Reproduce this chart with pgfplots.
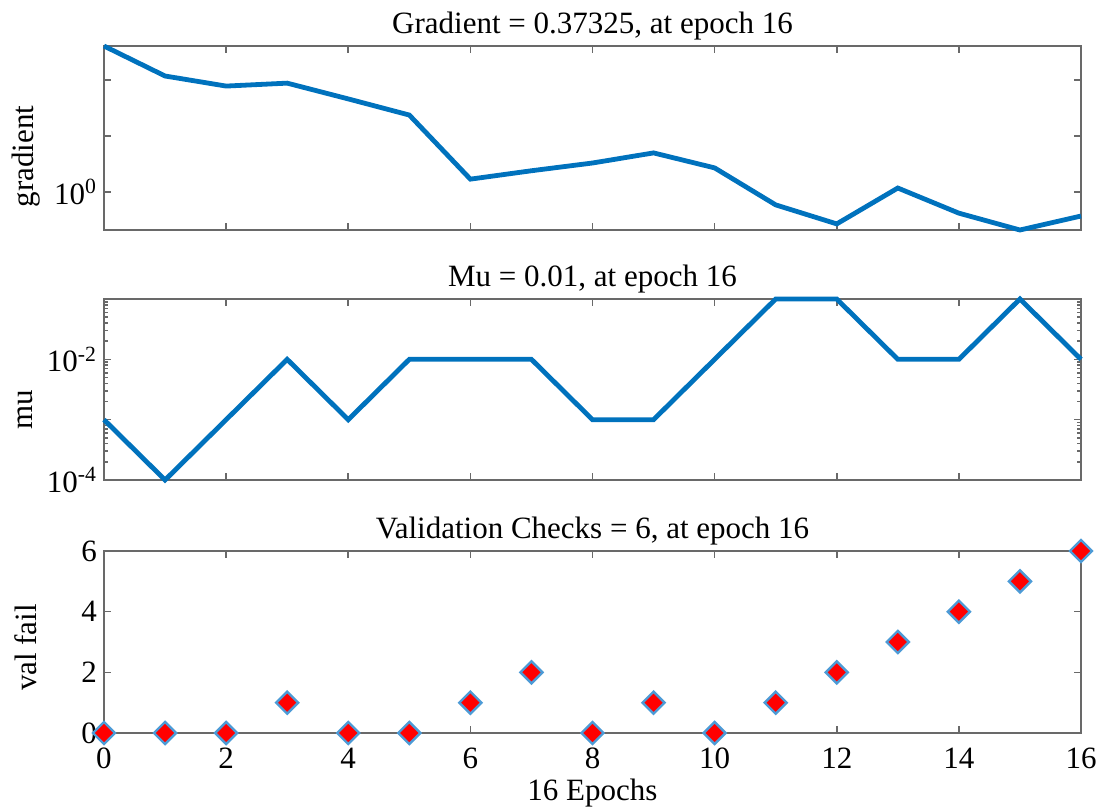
\documentclass[border=0pt]{standalone}
\usepackage{fontspec}
\setmainfont{Liberation Serif}
\usepackage{pgfplots}
\pgfplotsset{compat=1.18}

\definecolor{mlblue}{RGB}{0,114,189}
\definecolor{edgeblue}{RGB}{77,155,214}
\definecolor{axgray}{RGB}{105,105,105}

\pgfplotsset{
  trainstate/.style={
    scale only axis,
    width=488.5pt,
    xmin=0, xmax=16,
    xtick={0,2,...,16},
    axis line style={axgray, line width=0.9pt},
    every tick/.style={axgray, line width=0.8pt},
    major tick length=3.5pt,
    minor tick length=2pt,
    tick align=inside,
    /pgf/number format/assume math mode=true,
    tick label style={font=\rmfamily\fontsize{15.5}{18}\selectfont},
    label style={font=\rmfamily\fontsize{15.5}{18}\selectfont},
    title style={font=\rmfamily\fontsize{15.5}{18}\selectfont, anchor=base, at={(axis description cs:0.5,1)}, yshift=0.5pt},
    clip=false,
  },
}

\begin{document}
\begin{tikzpicture}
% gradient
\begin{axis}[trainstate,
  at={(0,0)}, anchor=south west,
  height=92pt,
  ymode=log, ymin=0.21, ymax=405,
  ytick={1,10,100}, yticklabels={10\textsuperscript{0},,},
  yminorticks=false,
  xticklabels={},
  title={Gradient = 0.37325, at epoch 16},
  ylabel={gradient},
  ylabel style={at={(axis description cs:-0.08,0.40)}, anchor=center},
]
\addplot[mlblue, line width=2.4pt] coordinates {
  (0,405) (1,118) (2,78) (3,88) (4,46) (5,23.7) (6,1.7) (7,2.4) (8,3.3)
  (9,5.0) (10,2.7) (11,0.59) (12,0.27) (13,1.18) (14,0.42) (15,0.21) (16,0.37325)
};
\end{axis}
% mu
\begin{axis}[trainstate,
  at={(0,-125pt)}, anchor=south west,
  height=90.5pt,
  ymode=log, ymin=1e-4, ymax=0.1,
  ytick={1e-4,1e-3,1e-2,1e-1},
  yticklabels={10\textsuperscript{-4},,10\textsuperscript{-2},},
  xticklabels={},
  title={Mu = 0.01, at epoch 16},
  ylabel={mu},
  ylabel style={at={(axis description cs:-0.08,0.39)}, anchor=center},
]
\addplot[mlblue, line width=2.4pt] coordinates {
  (0,1e-3) (1,1e-4) (2,1e-3) (3,1e-2) (4,1e-3) (5,1e-2) (6,1e-2) (7,1e-2) (8,1e-3)
  (9,1e-3) (10,1e-2) (11,0.1) (12,0.1) (13,1e-2) (14,1e-2) (15,0.1) (16,1e-2)
};
\end{axis}
% validation checks
\begin{axis}[trainstate,
  at={(0,-251.5pt)}, anchor=south west,
  height=91pt,
  ymin=0, ymax=6, ytick={0,2,4,6},
  title={Validation Checks = 6, at epoch 16},
  xlabel={16 Epochs},
  ylabel={val fail},
  xticklabel style={anchor=base, yshift=-17.5pt},
  xlabel style={at={(axis description cs:0.5,0)}, anchor=base, yshift=-33.5pt},
  ylabel style={at={(axis description cs:-0.08,0.47)}, anchor=center},
]
\addplot[only marks, mark=square*, mark size=3.9pt,
  mark options={rotate=45, fill=red, draw=edgeblue, line width=1.2pt}] coordinates {
  (0,0) (1,0) (2,0) (3,1) (4,0) (5,0) (6,1) (7,2) (8,0)
  (9,1) (10,0) (11,1) (12,2) (13,3) (14,4) (15,5) (16,6)
};
\end{axis}
\pgfresetboundingbox
\useasboundingbox (-52pt,-290.5pt) rectangle (500pt,115pt);
\end{tikzpicture}
\end{document}
